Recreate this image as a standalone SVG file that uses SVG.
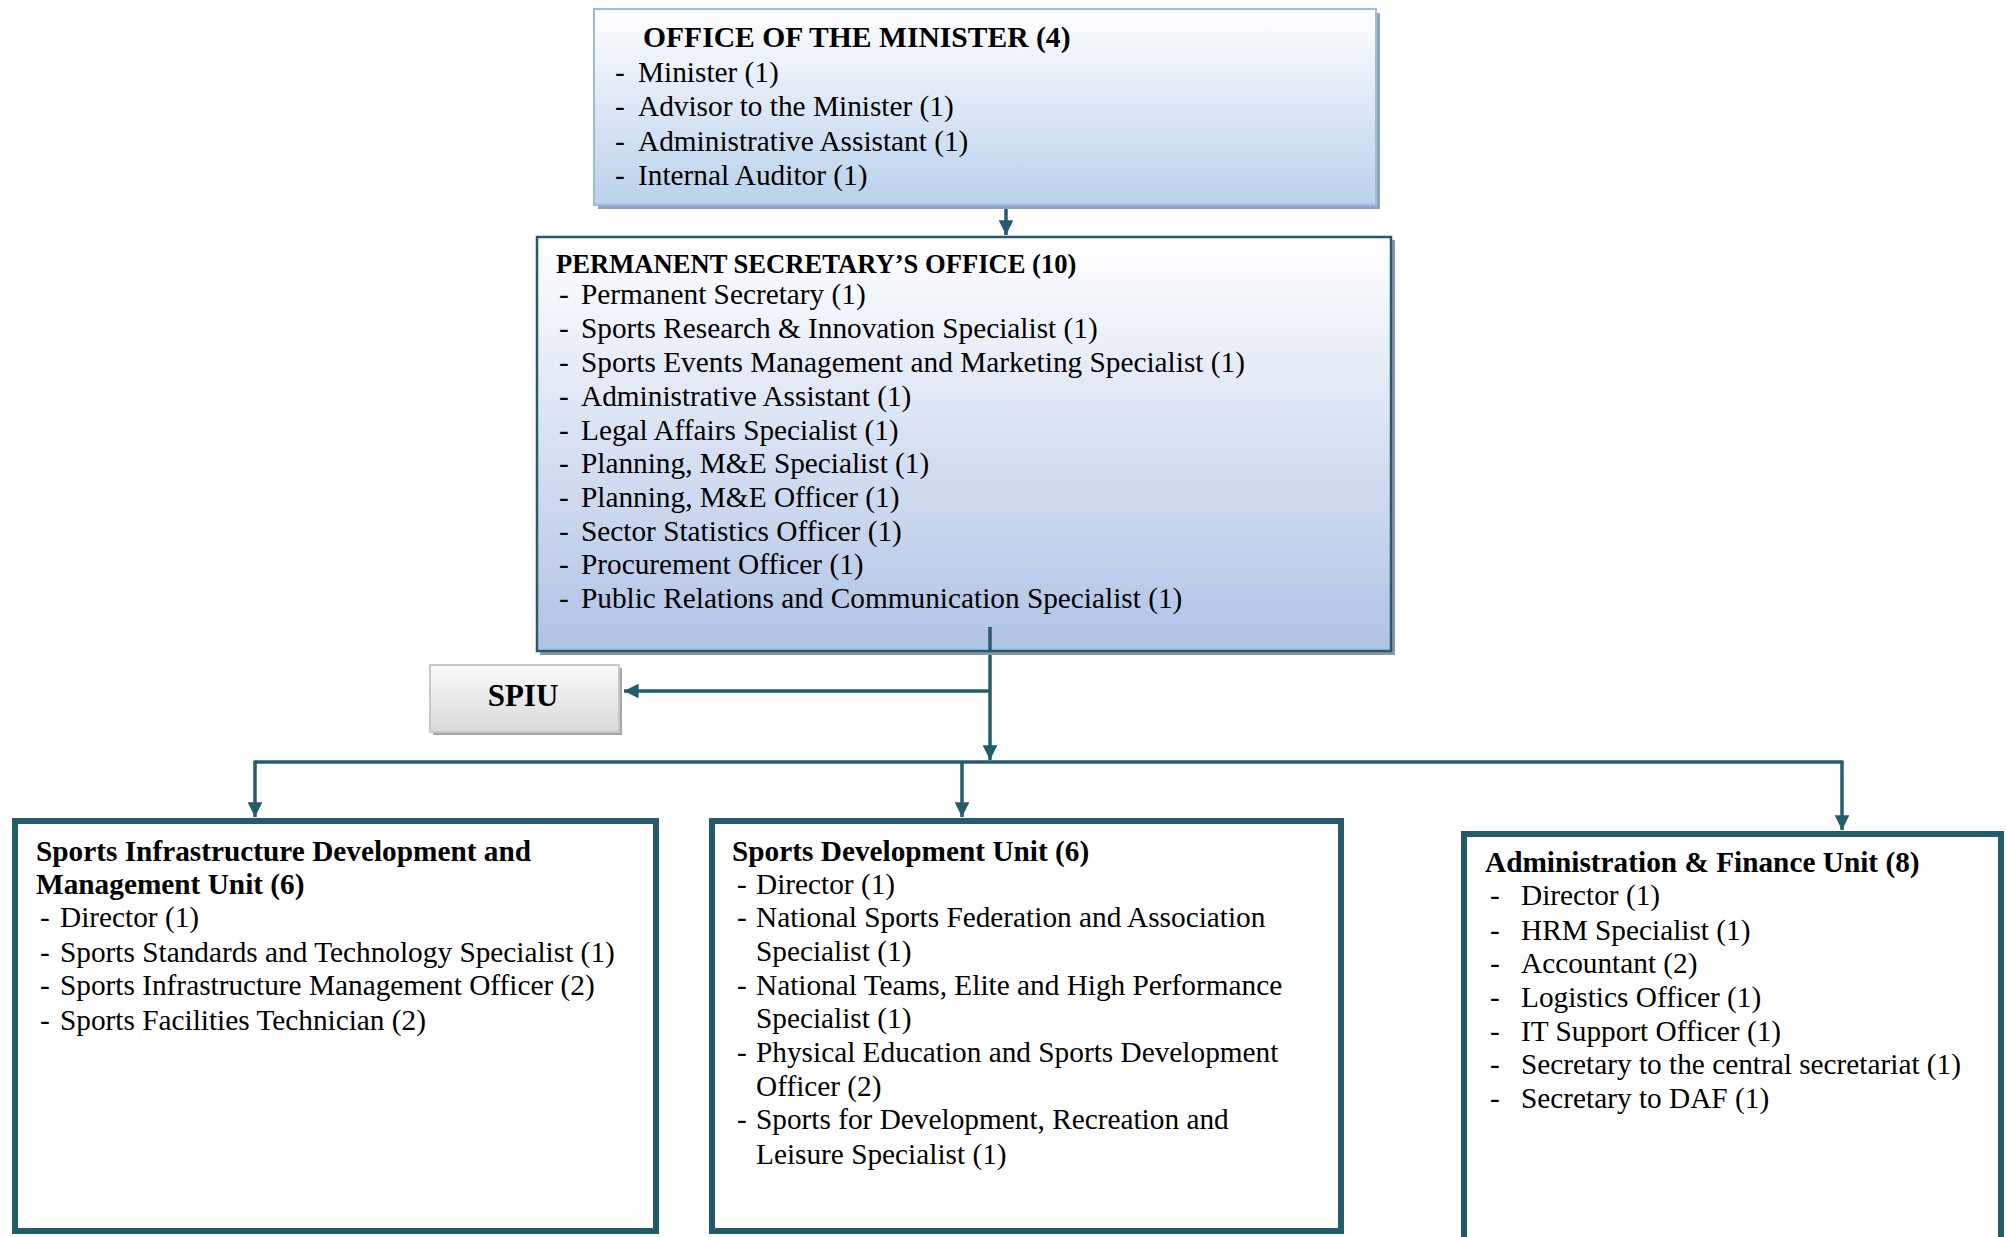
<svg xmlns="http://www.w3.org/2000/svg" width="2006" height="1237" viewBox="0 0 2006 1237">
<style>
text{font-family:"Liberation Serif","Times New Roman",serif;font-size:29.3px;fill:#000}
.b{font-weight:bold}
.con{stroke:#245c6c;stroke-width:3.5;fill:none}
.unit{fill:#fff;stroke:#245c6c;stroke-width:6}
</style>
<defs>
<linearGradient id="g1" x1="0" y1="0" x2="0" y2="1"><stop offset="0" stop-color="#ffffff"/><stop offset="1" stop-color="#b9d1eb"/></linearGradient>
<linearGradient id="g2" x1="0" y1="0" x2="0" y2="1"><stop offset="0" stop-color="#ffffff"/><stop offset="1" stop-color="#afc3e5"/></linearGradient>
<linearGradient id="g3" x1="0" y1="0" x2="0" y2="1"><stop offset="0" stop-color="#fbfbfb"/><stop offset="1" stop-color="#d8d8d8"/></linearGradient>
<marker id="ah" viewBox="0 0 10 10" refX="10" refY="5" markerWidth="4.2" markerHeight="4.2" orient="auto" markerUnits="strokeWidth"><path d="M0,0L10,5L0,10z" fill="#245c6c"/></marker>
</defs>

<g id="connectors">
<line class="con" x1="1006" y1="209" x2="1006" y2="235" marker-end="url(#ah)"/>
<line class="con" x1="990" y1="627" x2="990" y2="760" marker-end="url(#ah)"/>
<line class="con" x1="990" y1="691" x2="624" y2="691" marker-end="url(#ah)"/>
<polyline class="con" points="255,762 1842,762"/>
<line class="con" x1="255" y1="760.5" x2="255" y2="817" marker-end="url(#ah)"/>
<line class="con" x1="962" y1="762" x2="962" y2="817" marker-end="url(#ah)"/>
<line class="con" x1="1842" y1="760.5" x2="1842" y2="830" marker-end="url(#ah)"/>
</g>

<g id="minister">
<rect x="598" y="13" width="782" height="196" fill="#8ea4c0"/>
<rect x="594" y="9" width="782" height="196" fill="url(#g1)" stroke="#9dbbe0" stroke-width="2"/>
<text class="b" x="643" y="47" style="font-size:29.6px">OFFICE OF THE MINISTER (4)</text>
<text x="615" y="82">-</text><text x="638" y="82">Minister (1)</text>
<text x="615" y="116">-</text><text x="638" y="116">Advisor to the Minister (1)</text>
<text x="615" y="151">-</text><text x="638" y="151">Administrative Assistant (1)</text>
<text x="615" y="185">-</text><text x="638" y="185">Internal Auditor (1)</text>
</g>

<g id="ps-office">
<rect x="540" y="240" width="855" height="415" fill="#8a97ab"/>
<rect x="537" y="237" width="854" height="414" fill="url(#g2)" stroke="#245c6c" stroke-width="2.5"/>
<text class="b" x="556" y="273" style="font-size:26.6px">PERMANENT SECRETARY’S OFFICE (10)</text>
<text x="559" y="304">-</text><text x="581" y="304">Permanent Secretary (1)</text>
<text x="559" y="338">-</text><text x="581" y="338">Sports Research &amp; Innovation Specialist (1)</text>
<text x="559" y="372">-</text><text x="581" y="372">Sports Events Management and Marketing Specialist (1)</text>
<text x="559" y="406">-</text><text x="581" y="406">Administrative Assistant (1)</text>
<text x="559" y="440">-</text><text x="581" y="440">Legal Affairs Specialist (1)</text>
<text x="559" y="473">-</text><text x="581" y="473">Planning, M&amp;E Specialist (1)</text>
<text x="559" y="507">-</text><text x="581" y="507">Planning, M&amp;E Officer (1)</text>
<text x="559" y="541">-</text><text x="581" y="541">Sector Statistics Officer (1)</text>
<text x="559" y="574">-</text><text x="581" y="574">Procurement Officer (1)</text>
<text x="559" y="608">-</text><text x="581" y="608">Public Relations and Communication Specialist (1)</text>
</g>
<line class="con" x1="990" y1="627" x2="990" y2="651"/>

<g id="spiu">
<rect x="433" y="668" width="189" height="67" fill="#a6a6a6"/>
<rect x="430" y="665" width="189" height="67" fill="url(#g3)" stroke="#c8c8c8" stroke-width="2"/>
<text class="b" x="523" y="706" text-anchor="middle" style="font-size:31px">SPIU</text>
</g>

<g id="infra-unit">
<rect class="unit" x="15" y="821" width="641" height="410"/>
<text class="b" x="36" y="861">Sports Infrastructure Development and</text>
<text class="b" x="36" y="894">Management Unit (6)</text>
<text x="40" y="927">-</text><text x="60" y="927">Director (1)</text>
<text x="40" y="962">-</text><text x="60" y="962">Sports Standards and Technology Specialist (1)</text>
<text x="40" y="995">-</text><text x="60" y="995">Sports Infrastructure Management Officer (2)</text>
<text x="40" y="1030">-</text><text x="60" y="1030">Sports Facilities Technician (2)</text>
</g>

<g id="dev-unit">
<rect class="unit" x="712" y="821" width="629" height="410"/>
<text class="b" x="732" y="861">Sports Development Unit (6)</text>
<text x="737" y="894">-</text><text x="756" y="894">Director (1)</text>
<text x="737" y="927">-</text><text x="756" y="927">National Sports Federation and Association</text>
<text x="756" y="961">Specialist (1)</text>
<text x="737" y="995">-</text><text x="756" y="995">National Teams, Elite and High Performance</text>
<text x="756" y="1028">Specialist (1)</text>
<text x="737" y="1062">-</text><text x="756" y="1062">Physical Education and Sports Development</text>
<text x="756" y="1096">Officer (2)</text>
<text x="737" y="1129">-</text><text x="756" y="1129">Sports for Development, Recreation and</text>
<text x="756" y="1164">Leisure Specialist (1)</text>
</g>

<g id="admin-unit">
<rect class="unit" x="1464" y="834" width="537" height="420"/>
<text class="b" x="1485" y="872">Administration &amp; Finance Unit (8)</text>
<text x="1490" y="905">-</text><text x="1521" y="905">Director (1)</text>
<text x="1490" y="940">-</text><text x="1521" y="940">HRM Specialist (1)</text>
<text x="1490" y="973">-</text><text x="1521" y="973">Accountant (2)</text>
<text x="1490" y="1007">-</text><text x="1521" y="1007">Logistics Officer (1)</text>
<text x="1490" y="1041">-</text><text x="1521" y="1041">IT Support Officer (1)</text>
<text x="1490" y="1074">-</text><text x="1521" y="1074">Secretary to the central secretariat (1)</text>
<text x="1490" y="1108">-</text><text x="1521" y="1108">Secretary to DAF (1)</text>
</g>
</svg>
